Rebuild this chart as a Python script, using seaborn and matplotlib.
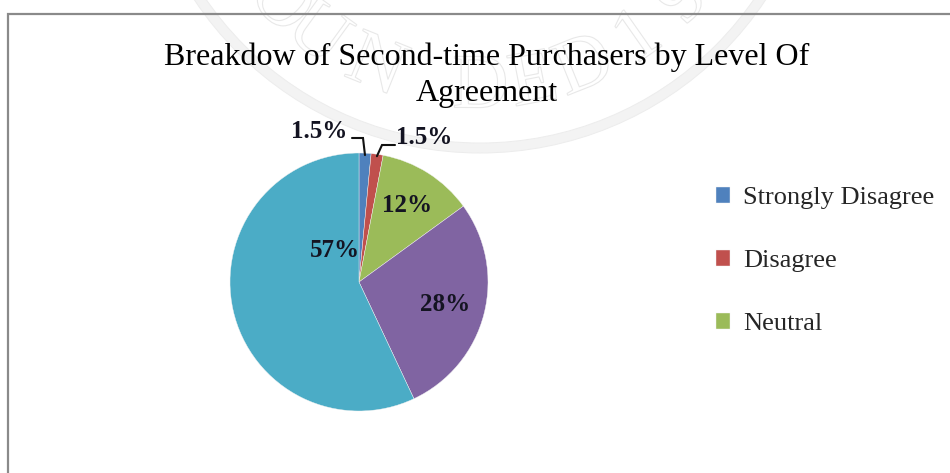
import numpy as np
import matplotlib
matplotlib.use("Agg")
import matplotlib.pyplot as plt
from matplotlib.patches import PathPatch, Circle
from matplotlib.textpath import TextPath
from matplotlib.font_manager import FontProperties
from matplotlib.transforms import Affine2D
import seaborn as sns

# ---- data ----
categories = ["Strongly Disagree", "Disagree", "Neutral", "Agree", "Strongly Agree"]
shares = [1.5, 1.5, 12, 28, 57]
pct_labels = ["1.5%", "1.5%", "12%", "28%", "57%"]
legend_shown = 3  # legend box only has room for the first three entries
title_lines = ["Breakdow of Second-time Purchasers by Level Of", "Agreement"]

sns.set_theme(style="white")
plt.rcParams["font.family"] = ["Liberation Serif", "DejaVu Serif"]
palette = sns.color_palette(["#4F81BD", "#C0504D", "#9BBB59", "#8064A2", "#4BACC6"])

W, H = 950, 473
fig = plt.figure(figsize=(W / 100, H / 100), dpi=100)
fig.patch.set_facecolor("white")

# background layer in pixel units (y measured upward)
bg = fig.add_axes([0, 0, 1, 1], zorder=0)
bg.set_xlim(0, W)
bg.set_ylim(0, H)
bg.axis("off")

def py(y):
    return H - y

# faint seal in the background
seal_c = (480, py(-190))
bg.add_patch(Circle(seal_c, 338, fill=False, ec="#f3f3f3", lw=7))
bg.add_patch(Circle(seal_c, 333, fill=False, ec="#ececec", lw=0.7))
bg.add_patch(Circle(seal_c, 343, fill=False, ec="#ececec", lw=0.7))
seal_font = FontProperties(family="Liberation Serif")
seal_letters = ["O", "U", "N", "D", "E", "D", "1", "9"]
seal_angles = [-46, -36, -22, 0, 11, 22, 35, 47]
for ch, ang in zip(seal_letters, seal_angles):
    tp = TextPath((0, 0), ch, size=78, prop=seal_font)
    ext = tp.get_extents()
    r = 272
    a = np.deg2rad(ang)
    cx = seal_c[0] + r * np.sin(a)
    cy = seal_c[1] - r * np.cos(a)
    tr = (Affine2D()
          .translate(-(ext.x0 + ext.width / 2), -(ext.y0 + ext.height / 2))
          .rotate_deg(ang)
          .translate(cx, cy))
    bg.add_patch(PathPatch(tr.transform_path(tp), fc="none", ec="#e8e8e8", lw=0.8))

# chart frame (left and top edges visible)
bg.plot([8, 8, W + 5], [-5, py(14), py(14)], color="#8a8a8a", lw=1.6,
        solid_joinstyle="miter")

# title
fig.text(487 / W, 1 - 57 / H, title_lines[0], ha="center", va="center",
         fontsize=23, color="black")
fig.text(487 / W, 1 - 93 / H, title_lines[1], ha="center", va="center",
         fontsize=23, color="black")

# pie
pcx, pcy, pr = 359, 282, 129
ax = fig.add_axes([(pcx - pr) / W, (H - pcy - pr) / H, 2 * pr / W, 2 * pr / H], zorder=2)
ax.patch.set_alpha(0)
wedges, _ = ax.pie(shares, colors=palette, startangle=90, counterclock=False,
                   radius=1, wedgeprops=dict(edgecolor="#f2f2f2", linewidth=0.3))
ax.set_xlim(-1, 1)
ax.set_ylim(-1, 1)
ax.set_aspect("equal")
ax.axis("off")

lab_kw = dict(fontsize=18, fontweight="bold", color="#141422")

def d(px_, py_):
    return ((px_ - pcx) / pr, (pcy - py_) / pr)

# labels inside the larger slices
inside_pos = {2: d(407, 205), 3: d(445, 304), 4: d(335, 250)}
for i, (x, y) in inside_pos.items():
    ax.text(x, y, pct_labels[i], ha="center", va="center", **lab_kw)

# small slices: labels outside with elbow leader lines
def edge_point(w):
    mid = np.deg2rad((w.theta1 + w.theta2) / 2)
    return 0.985 * np.cos(mid), 0.985 * np.sin(mid)

x0, y0 = edge_point(wedges[0])
e1 = d(363, 138)
e2 = d(352, 138)
ax.plot([x0, e1[0], e2[0]], [y0, e1[1], e2[1]], color="#111111", lw=1.5,
        clip_on=False, solid_joinstyle="miter")
t = d(347, 131)
ax.text(t[0], t[1], pct_labels[0], ha="right", va="center", **lab_kw)

x1, y1 = edge_point(wedges[1])
f1 = d(382, 145)
f2 = d(395, 145)
ax.plot([x1, f1[0], f2[0]], [y1, f1[1], f2[1]], color="#111111", lw=1.5,
        clip_on=False, solid_joinstyle="miter")
t = d(396, 137)
ax.text(t[0], t[1], pct_labels[1], ha="left", va="center", **lab_kw)

# legend
fs = 19
fpx = fs * 100 / 72
fig.legend(wedges[:legend_shown], categories[:legend_shown],
           loc="upper left", bbox_to_anchor=(716 / W, 1 - 187 / H),
           bbox_transform=fig.transFigure, frameon=False, fontsize=fs,
           handlelength=14 / fpx, handleheight=14 / fpx,
           handletextpad=13 / fpx, labelspacing=1.55,
           borderpad=0, borderaxespad=0)

fig.savefig("out.png", dpi=100, facecolor="white")
